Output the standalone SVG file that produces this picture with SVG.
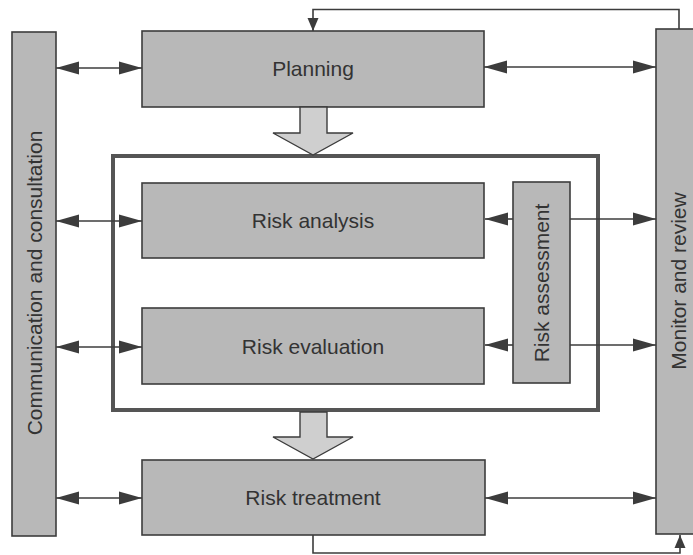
<svg xmlns="http://www.w3.org/2000/svg" width="693" height="555" viewBox="0 0 693 555">
<style>
.box{fill:#b8b8b8;stroke:#3c3c3c;stroke-width:1.6}
.lbl{font-family:"Liberation Sans",Arial,sans-serif;font-size:21px;fill:#333;text-anchor:middle}
.ln{fill:none;stroke:#3c3c3c;stroke-width:1.6}
.big{fill:#cfcfcf;stroke:#3c3c3c;stroke-width:1.4}
.frame{fill:none;stroke:#555;stroke-width:4}
</style>
<defs>
<marker id="ah" markerUnits="userSpaceOnUse" markerWidth="24" markerHeight="14" refX="23" refY="7" orient="auto-start-reverse" viewBox="0 0 24 14">
<path d="M0,0.5 L23,7 L0,13.5 z" fill="#3c3c3c"/>
</marker>
<marker id="ahs" markerUnits="userSpaceOnUse" markerWidth="14" markerHeight="12" refX="13" refY="6" orient="auto" viewBox="0 0 14 12">
<path d="M0,0.5 L13,6 L0,11.5 z" fill="#3c3c3c"/>
</marker>
</defs>
<rect width="693" height="555" fill="#fff"/>
<g id="frame"><rect class="frame" x="113" y="156" width="485" height="254"/></g>
<g id="comm"><rect class="box" x="12" y="32" width="44" height="504"/>
<text class="lbl" transform="translate(42,283) rotate(-90)">Communication and consultation</text></g>
<g id="monitor"><rect class="box" x="656" y="29" width="50" height="505"/>
<text class="lbl" transform="translate(686,281) rotate(-90)">Monitor and review</text></g>
<g id="planning"><rect class="box" x="142" y="31" width="342" height="76"/>
<text class="lbl" x="313" y="76">Planning</text></g>
<g id="analysis"><rect class="box" x="142" y="183" width="342" height="75"/>
<text class="lbl" x="313" y="228">Risk analysis</text></g>
<g id="evaluation"><rect class="box" x="142" y="308" width="342" height="76"/>
<text class="lbl" x="313" y="354">Risk evaluation</text></g>
<g id="assessment"><rect class="box" x="513" y="182" width="57" height="201"/>
<text class="lbl" transform="translate(549,283) rotate(-90)">Risk assessment</text></g>
<g id="treatment"><rect class="box" x="142" y="460" width="343" height="75"/>
<text class="lbl" x="313" y="505">Risk treatment</text></g>
<g id="connectors">
<path class="big" d="M300,107 L327,107 L327,133 L353,133 L313,155 L273,133 L300,133 z"/>
<path class="big" d="M300,412 L327,412 L327,437 L353,437 L313,459 L273,437 L300,437 z"/>
<line class="ln" x1="56" y1="68" x2="142" y2="68" marker-start="url(#ah)" marker-end="url(#ah)"/>
<line class="ln" x1="484" y1="67" x2="656" y2="67" marker-start="url(#ah)" marker-end="url(#ah)"/>
<line class="ln" x1="56" y1="221" x2="142" y2="221" marker-start="url(#ah)" marker-end="url(#ah)"/>
<line class="ln" x1="56" y1="347" x2="142" y2="347" marker-start="url(#ah)" marker-end="url(#ah)"/>
<line class="ln" x1="56" y1="498" x2="142" y2="498" marker-start="url(#ah)" marker-end="url(#ah)"/>
<line class="ln" x1="485" y1="498" x2="656" y2="498" marker-start="url(#ah)" marker-end="url(#ah)"/>
<line class="ln" x1="513" y1="219" x2="485" y2="219" marker-end="url(#ah)"/>
<line class="ln" x1="513" y1="345" x2="485" y2="345" marker-end="url(#ah)"/>
<line class="ln" x1="570" y1="219" x2="656" y2="219" marker-end="url(#ah)"/>
<line class="ln" x1="570" y1="345" x2="656" y2="345" marker-end="url(#ah)"/>
<path class="ln" d="M679,29 L679,9.5 L313,9.5 L313,31" marker-end="url(#ahs)"/>
<path class="ln" d="M313,535 L313,553 L680,553 L680,535" marker-end="url(#ahs)"/>
</g>
</svg>
